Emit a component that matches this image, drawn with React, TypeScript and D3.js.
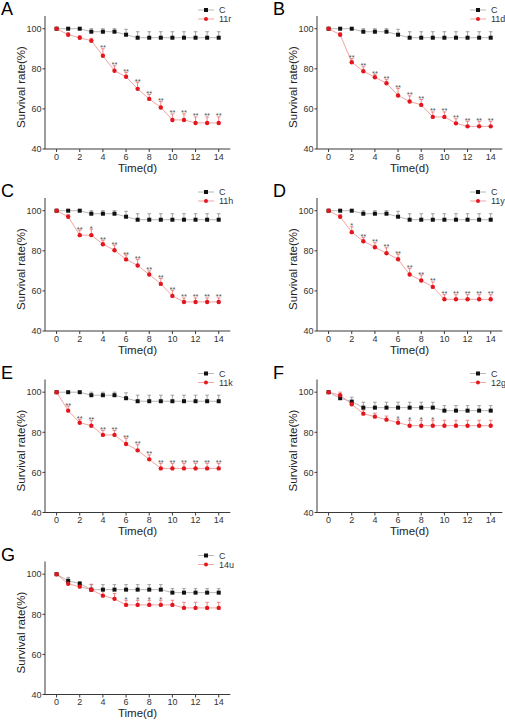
import React from "react";
import * as d3 from "d3";

const days = d3.range(0, 15);

const ctrlMean = [100, 100, 100, 98.5, 98.5, 98.5, 97, 95.5, 95.5, 95.5, 95.5, 95.5, 95.5, 95.5, 95.5];
const ctrlErr = [0, 0, 0, 1.5, 1.5, 1.5, 2.7, 3, 3, 3, 3, 3, 3, 3, 3];

const aMean = [100, 97, 95.5, 94, 86.5, 79, 76, 70, 65, 60.7, 54.5, 54.5, 53, 53, 53];
const aErr = [0, 1, 1, 1.2, 3.5, 2.5, 2.2, 3.3, 2.2, 3, 3, 3, 3, 3, 3];
const aStars = ["", "", "", "", "**", "**", "**", "**", "**", "**", "**", "**", "**", "**", "**"];

const bMean = [100, 97, 83.3, 78.8, 75.8, 72.8, 66.7, 63.7, 62, 56, 56, 52.8, 51.3, 51.3, 51.3];
const bErr = [0, 1, 1.8, 2.2, 1.5, 1.8, 3.5, 2.8, 2.7, 2.5, 2.5, 2.3, 2.5, 2.5, 2.5];
const bStars = ["", "", "**", "**", "**", "**", "**", "**", "**", "**", "**", "**", "**", "**", "**"];

const cMean = [100, 97, 87.8, 87.8, 83.3, 80.3, 75.7, 72.7, 68.2, 63.5, 57.5, 54.5, 54.5, 54.5, 54.5];
const cErr = [0, 1, 2.5, 3, 2, 2.5, 2.2, 3, 1.8, 2.7, 2.8, 2, 2, 2, 2];
const cStars = ["", "", "**", "*", "**", "**", "**", "**", "**", "**", "**", "**", "**", "**", "**"];

const dMean = [100, 97, 89.3, 84.8, 81.8, 78.8, 75.8, 68.2, 65.2, 62, 55.8, 55.8, 55.8, 55.8, 55.8];
const dErr = [0, 1, 2.7, 1.8, 2.2, 2.7, 2.5, 3, 2.7, 2.5, 2.3, 2.3, 2.3, 2.3, 2.3];
const dStars = ["", "", "*", "**", "**", "**", "**", "**", "**", "**", "**", "**", "**", "**", "**"];

const eMean = [100, 90.8, 84.8, 83.3, 78.7, 78.7, 74.2, 71, 66.5, 62, 62, 62, 62, 62, 62];
const eErr = [0, 2.3, 1.7, 2.5, 2.2, 2.2, 2.8, 2.8, 2.2, 2.5, 2.5, 2.5, 2.5, 2.5, 2.5];
const eStars = ["", "**", "**", "**", "**", "**", "**", "**", "**", "**", "**", "**", "**", "**", "**"];

const fCtrlMean = [100, 97, 95.3, 92.3, 92.3, 92.3, 92.3, 92.3, 92.3, 92.3, 90.8, 90.8, 90.8, 90.8, 90.8];
const fCtrlErr = [0, 1.3, 2.2, 2.7, 2.7, 2.7, 2.7, 2.7, 2.7, 2.7, 2.5, 2.5, 2.5, 2.5, 2.5];
const fMean = [100, 98.5, 94, 89.3, 87.8, 86.3, 84.8, 83.3, 83.3, 83.3, 83.3, 83.3, 83.3, 83.3, 83.3];
const fErr = [0, 1.5, 1.5, 1.8, 1.7, 1.8, 1.7, 2.7, 2.7, 2.7, 2.7, 2.7, 2.7, 2.7, 2.7];
const fStars = ["", "", "", "", "", "", "*", "*", "*", "*", "", "", "", "", ""];

const gCtrlMean = [100, 96.7, 95.3, 92.3, 92.3, 92.3, 92.3, 92.3, 92.3, 92.3, 90.8, 90.8, 90.8, 90.8, 90.8];
const gCtrlErr = [0, 1.7, 1, 2.5, 2.5, 2.5, 2.5, 2.5, 2.5, 2.5, 2, 2, 2, 2, 2];
const gMean = [100, 95.2, 93.8, 92.3, 89.3, 87.7, 84.7, 84.7, 84.7, 84.7, 84.7, 83.2, 83.2, 83.2, 83.2];
const gErr = [0, 1, 1, 2.7, 3, 2.7, 2.3, 2.3, 2.3, 2.3, 2.3, 2.8, 2.8, 2.8, 2.8];
const gStars = ["", "", "", "", "", "", "*", "*", "*", "*", "", "", "", "", ""];

const letters = ["A", "B", "C", "D", "E", "F", "G"];
const compounds = ["11r", "11d", "11h", "11y", "11k", "12g", "14u"];
const yTicks = [40, 60, 80, 100];
const xTicks = [0, 2, 4, 6, 8, 10, 12, 14];

type Panel = {
  letter: string;
  name: string;
  cm: number[];
  ce: number[];
  tm: number[];
  te: number[];
  stars: string[];
  ox: number;
  oy: number;
};

const colOffsets = [0, 272];
const rowOffsets = [0, 182, 363.5, 545.5];

const panelData = [
  [ctrlMean, ctrlErr, aMean, aErr, aStars],
  [ctrlMean, ctrlErr, bMean, bErr, bStars],
  [ctrlMean, ctrlErr, cMean, cErr, cStars],
  [ctrlMean, ctrlErr, dMean, dErr, dStars],
  [ctrlMean, ctrlErr, eMean, eErr, eStars],
  [fCtrlMean, fCtrlErr, fMean, fErr, fStars],
  [gCtrlMean, gCtrlErr, gMean, gErr, gStars],
] as any[];

const panels: Panel[] = panelData.map((p, i) => ({
  letter: letters[i],
  name: compounds[i],
  cm: p[0],
  ce: p[1],
  tm: p[2],
  te: p[3],
  stars: p[4],
  ox: colOffsets[i % 2],
  oy: rowOffsets[Math.floor(i / 2)],
}));

const FONT = "Liberation Sans, Arial, sans-serif";
const AXIS = "#3a3a3a";
const CTRL_LINE = "#b8b8b8";
const CTRL_MARK = "#111111";
const CTRL_ERR = "#8a8a8a";
const T_LINE = "#f2a3a3";
const T_MARK = "#e3161d";
const T_ERR = "#e86a6a";

function ChartPanel({ p }: { p: Panel }) {
  const x = d3.scaleLinear().domain([-1, 15]).range([45, 230.3]);
  const y = d3.scaleLinear().domain([40, 100]).range([149, 28.7]);
  const axisTop = 16;
  const line = d3
    .line<number>()
    .x((_, i) => x(days[i]))
    .y((v) => y(v));

  const errBars = (m: number[], e: number[], color: string) =>
    days.map((d, i) =>
      e[i] > 0 ? (
        <g key={"e" + i} stroke={color} strokeWidth={0.8}>
          <line x1={x(d)} x2={x(d)} y1={y(m[i])} y2={y(m[i] + e[i])} />
          <line x1={x(d) - 1.8} x2={x(d) + 1.8} y1={y(m[i] + e[i])} y2={y(m[i] + e[i])} />
        </g>
      ) : null
    );

  return (
    <g transform={`translate(${p.ox},${p.oy})`} fontFamily={FONT}>
      <text x={1} y={15} fontSize={18} fill="#000">
        {p.letter}
      </text>
      {/* legend */}
      <g>
        <line x1={198} x2={214} y1={10} y2={10} stroke={CTRL_LINE} strokeWidth={1} />
        <rect x={204} y={8} width={4} height={4} fill={CTRL_MARK} />
        <text x={219} y={13.2} fontSize={9} fill="#333">
          C
        </text>
        <line x1={198} x2={214} y1={19} y2={19} stroke={T_LINE} strokeWidth={1} />
        <circle cx={206} cy={19} r={2} fill={T_MARK} />
        <text x={219} y={22.2} fontSize={9} fill="#333">
          {p.name}
        </text>
      </g>
      {/* axes */}
      <line x1={45} x2={45} y1={axisTop} y2={149} stroke={AXIS} strokeWidth={1} />
      <line x1={45} x2={230.3} y1={149} y2={149} stroke={AXIS} strokeWidth={1} />
      {yTicks.map((t) => (
        <g key={"y" + t}>
          <line x1={42.5} x2={45} y1={y(t)} y2={y(t)} stroke={AXIS} />
          <text x={41.5} y={y(t) + 3.2} fontSize={9} textAnchor="end" fill="#333">
            {t}
          </text>
        </g>
      ))}
      {xTicks.map((t) => (
        <g key={"x" + t}>
          <line x1={x(t)} x2={x(t)} y1={149} y2={152} stroke={AXIS} />
          <text x={x(t)} y={159.5} fontSize={9} textAnchor="middle" fill="#333">
            {t}
          </text>
        </g>
      ))}
      <text x={137.5} y={171.5} fontSize={11.5} textAnchor="middle" fill="#222">
        Time(d)
      </text>
      <text
        transform={`translate(25,87) rotate(-90)`}
        fontSize={11.5}
        textAnchor="middle"
        fill="#222"
      >
        Survival rate(%)
      </text>
      {/* control */}
      {errBars(p.cm, p.ce, CTRL_ERR)}
      <path d={line(p.cm) || ""} fill="none" stroke={CTRL_LINE} strokeWidth={1} />
      {/* treatment */}
      {errBars(p.tm, p.te, T_ERR)}
      <path d={line(p.tm) || ""} fill="none" stroke={T_LINE} strokeWidth={1} />
      {p.cm.map((v, i) => (
        <rect key={"cm" + i} x={x(days[i]) - 2} y={y(v) - 2} width={4} height={4} fill={CTRL_MARK} />
      ))}
      {p.tm.map((v, i) => (
        <circle key={"tm" + i} cx={x(days[i])} cy={y(v)} r={2.2} fill={T_MARK} />
      ))}
      {p.stars.map((s, i) =>
        s ? (
          <text
            key={"s" + i}
            x={x(days[i])}
            y={y(p.tm[i] + p.te[i]) + 1.5}
            fontSize={7.5}
            textAnchor="middle"
            fill="#555"
          >
            {s}
          </text>
        ) : null
      )}
    </g>
  );
}

export default function App() {
  return (
    <svg
      width={505}
      height={720}
      style={{ position: "absolute", left: 0, top: 0, background: "#fff" }}
    >
      <rect width={505} height={720} fill="#fff" />
      {panels.map((p) => (
        <ChartPanel key={p.letter} p={p} />
      ))}
    </svg>
  );
}
